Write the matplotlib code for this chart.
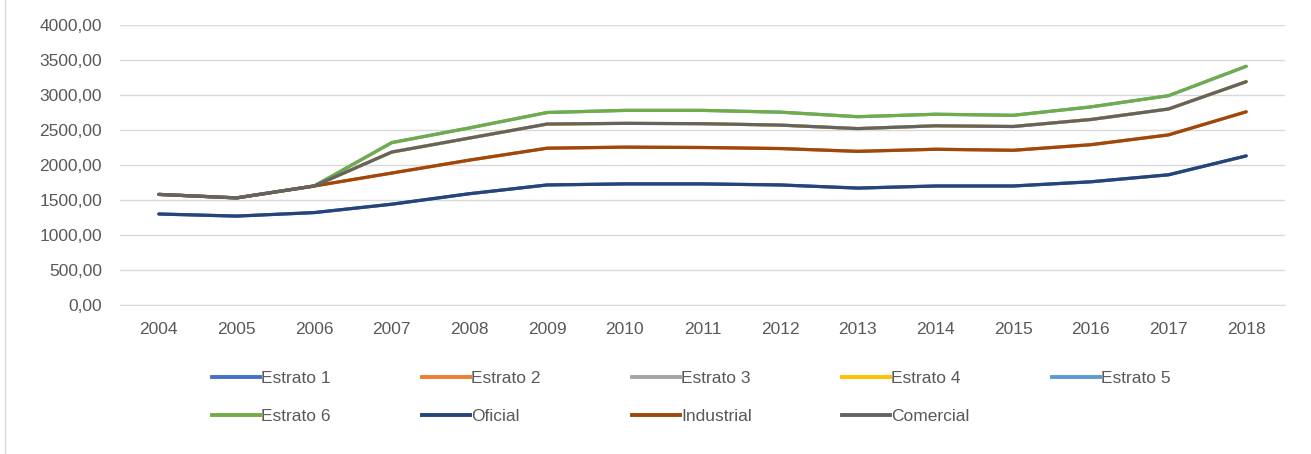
import matplotlib
matplotlib.use("Agg")
import matplotlib.pyplot as plt
from matplotlib.ticker import FuncFormatter, MultipleLocator
from matplotlib.lines import Line2D

plt.rcParams["font.family"] = ["Liberation Sans Narrow", "Liberation Sans", "DejaVu Sans"]

# --- data -------------------------------------------------------------------
years = [2004, 2005, 2006, 2007, 2008, 2009, 2010, 2011, 2012, 2013, 2014,
         2015, 2016, 2017, 2018]

oficial = [1300, 1270, 1320, 1440, 1590, 1715, 1730, 1730, 1715, 1670, 1700,
           1700, 1760, 1860, 2130]
industrial = [1580, 1530, 1700, 1885, 2070, 2240, 2255, 2250, 2235, 2195, 2225,
              2210, 2290, 2430, 2760]
comercial = [1580, 1530, 1700, 2185, 2385, 2585, 2595, 2590, 2570, 2520, 2560,
             2550, 2650, 2800, 3190]
estrato6 = [1580, 1530, 1700, 2320, 2530, 2750, 2780, 2780, 2755, 2690, 2725,
            2710, 2830, 2990, 3410]

# strata 1-5 are hidden beneath the visible lines in the reference
estrato1 = list(oficial)
estrato2 = list(industrial)
estrato3 = list(comercial)
estrato4 = list(comercial)
estrato5 = list(estrato6)

series_names = ["Estrato 1", "Estrato 2", "Estrato 3", "Estrato 4", "Estrato 5",
                "Estrato 6", "Oficial", "Industrial", "Comercial"]
series_values = [estrato1, estrato2, estrato3, estrato4, estrato5,
                 estrato6, oficial, industrial, comercial]
series_colors = ["#4472C4", "#ED7D31", "#A5A5A5", "#FFC000", "#5B9BD5",
                 "#70AD47", "#264478", "#9E480E", "#636363"]

TEXT_COLOR = "#595959"
GRID_COLOR = "#D9D9D9"
FONT_SIZE = 12.5

fig = plt.figure(figsize=(13.11, 4.54), dpi=100)
W, H = 1311, 454
ax = fig.add_axes([120 / W, 1 - 305 / H, (1285 - 120) / W, (305 - 25) / H])

x = list(range(len(years)))
for name, vals, col in zip(series_names, series_values, series_colors):
    ax.plot(x, vals, color=col, linewidth=2.3, label=name,
            solid_capstyle="round", solid_joinstyle="round")

ax.set_xlim(-0.5, len(years) - 0.5)
ax.set_ylim(0, 4000)
ax.yaxis.set_major_locator(MultipleLocator(500))
ax.yaxis.set_major_formatter(FuncFormatter(lambda v, p: f"{v:.2f}".replace(".", ",")))
ax.set_xticks(x)
ax.set_xticklabels([str(y) for y in years])

ax.grid(axis="y", color=GRID_COLOR, linewidth=1.0)
ax.set_axisbelow(True)
for side in ["top", "right", "left"]:
    ax.spines[side].set_visible(False)
ax.spines["bottom"].set_color(GRID_COLOR)
ax.tick_params(axis="both", length=0, labelsize=FONT_SIZE, labelcolor=TEXT_COLOR)
ax.tick_params(axis="y", pad=13)
ax.tick_params(axis="x", pad=12)

# legend: five evenly spaced columns, two rows (Excel style)
n_cols = 5
for c in range(n_cols):
    idx = [i for i in (c, c + n_cols) if i < len(series_names)]
    handles = [Line2D([], [], color=series_colors[i], linewidth=2.8) for i in idx]
    labels = [series_names[i] for i in idx]
    y_mid = 378 if len(idx) == 1 else (378 + 417) / 2
    fig.legend(handles, labels, frameon=False, loc="center left",
               bbox_to_anchor=((212 + 210 * c) / W, 1 - y_mid / H),
               fontsize=FONT_SIZE, labelcolor=TEXT_COLOR, handlelength=2.75,
               handletextpad=0.1, labelspacing=1.35, borderpad=0,
               borderaxespad=0)

# thin border line at the left of the chart container
fig.add_artist(Line2D([5 / W, 5 / W], [0, 1], color="#D9D9D9", linewidth=1.0))

fig.savefig("out.png", dpi=100)
